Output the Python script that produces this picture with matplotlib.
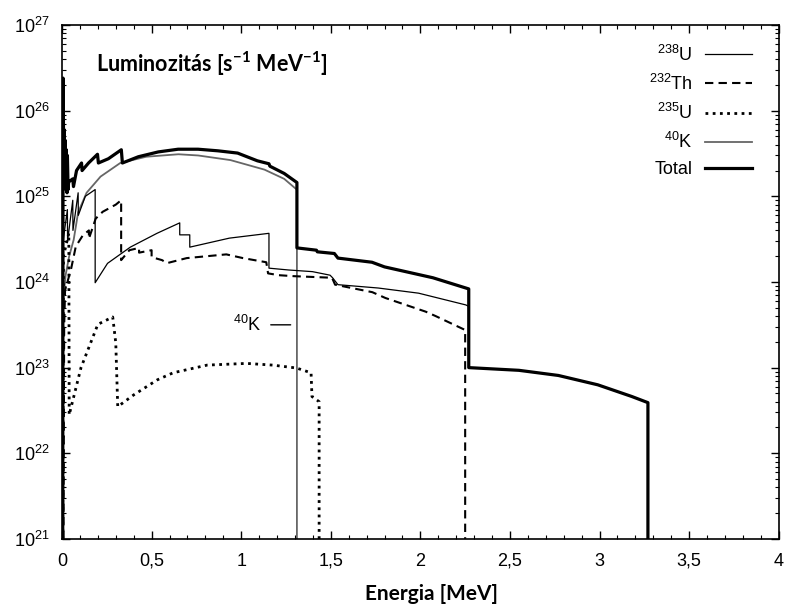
import matplotlib
matplotlib.use("Agg")
import matplotlib.pyplot as plt
from matplotlib.ticker import FixedLocator, FixedFormatter, MultipleLocator, LogLocator, NullFormatter

# Energy [MeV] / luminosity [s^-1 MeV^-1] for each decay chain
u238_e = [0.0, 0.005, 0.006, 0.030, 0.031, 0.060, 0.061, 0.090, 0.091, 0.130, 0.185, 0.185,
          0.254, 0.381, 0.530, 0.657, 0.657, 0.713, 0.713, 0.934, 1.155, 1.155, 1.265, 1.398,
          1.496, 1.51, 1.54, 1.765, 1.99, 2.253, 2.27, 2.27, 2.55, 2.77, 2.99, 3.18, 3.27, 3.27]
u238_l = [1e21, 1e21, 3e24, 7e24, 3e24, 9e24, 4e24, 1.1e25, 6e24, 1.0e25, 1.2e25, 9.8e23,
          1.65e24, 2.55e24, 3.7e24, 4.9e24, 3.55e24, 3.55e24, 2.55e24, 3.25e24, 3.7e24, 1.45e24, 1.38e24, 1.32e24,
          1.2e24, 1.12e24, 9.3e23, 8.5e23, 7.4e23, 5.4e23, 5.2e23, 1.0e23, 9.3e22, 8.1e22, 6.3e22, 4.6e22, 3.9e22, 1e21]

th232_e = [0.008, 0.012, 0.017, 0.050, 0.077, 0.116, 0.150, 0.150, 0.188, 0.227, 0.300, 0.330, 0.330,
           0.376, 0.430, 0.430, 0.500, 0.500, 0.558, 0.586, 0.696, 0.917, 1.01, 1.14, 1.15, 1.21, 1.29,
           1.507, 1.524, 1.732, 1.805, 2.03, 2.085, 2.25, 2.25]
th232_l = [1e21, 3e23, 8e23, 1.4e24, 2.6e24, 3.5e24, 4.0e24, 3.2e24, 5.5e24, 6.6e24, 8.0e24, 9.0e24, 1.8e24,
           2.35e24, 2.5e24, 2.2e24, 2.35e24, 1.95e24, 1.8e24, 1.66e24, 1.9e24, 2.1e24, 1.9e24, 1.7e24, 1.26e24, 1.2e24, 1.17e24,
           1.12e24, 9.3e23, 7.6e23, 6.5e23, 4.5e23, 4.0e23, 2.75e23, 1e21]

u235_e = [0.004, 0.008, 0.038, 0.040, 0.106, 0.200, 0.283, 0.300, 0.311, 0.400, 0.532, 0.620,
          0.810, 1.030, 1.175, 1.308, 1.390, 1.395, 1.435, 1.435]
u235_l = [1e21, 2e24, 3.7e24, 2.8e22, 1.0e23, 3.2e23, 3.9e23, 1.95e23, 3.5e22, 4.8e22, 7.2e22, 8.7e22,
          1.07e23, 1.12e23, 1.07e23, 9.9e22, 8.7e22, 4.6e22, 4.0e22, 1e21]

k40_e = [0.0, 0.003, 0.020, 0.040, 0.065, 0.090, 0.137, 0.215, 0.325, 0.470, 0.650, 0.760,
         0.940, 1.130, 1.240, 1.300, 1.311, 1.311]
k40_l = [1e21, 5e23, 1.2e24, 2.0e24, 3.1e24, 6.5e24, 1.1e25, 1.7e25, 2.45e25, 2.9e25, 3.1e25, 3.0e25,
         2.65e25, 2.05e25, 1.6e25, 1.25e25, 1.2e25, 1e21]

total_e = [0.0, 0.004, 0.006, 0.010, 0.012, 0.016, 0.018, 0.022, 0.024, 0.028, 0.030, 0.034,
           0.037, 0.060, 0.064, 0.081, 0.109, 0.112, 0.148, 0.198, 0.203, 0.259, 0.331, 0.337,
           0.426, 0.537, 0.648, 0.759, 0.870, 0.980, 1.090, 1.155, 1.160, 1.240, 1.311, 1.311,
           1.420, 1.425, 1.520, 1.540, 1.730, 1.800, 2.070, 2.270, 2.270, 2.550, 2.770, 2.990,
           3.180, 3.270, 3.270]
total_l = [1e21, 1e21, 2.4e26, 2.0e25, 6e25, 1.5e25, 4.5e25, 1.2e25, 3.5e25, 1.1e25, 3e25, 1.2e25,
           1.47e25, 1.6e25, 1.3e25, 2.0e25, 2.45e25, 2.0e25, 2.45e25, 3.1e25, 2.45e25, 2.75e25, 3.5e25, 2.45e25,
           2.9e25, 3.3e25, 3.55e25, 3.55e25, 3.4e25, 3.2e25, 2.6e25, 2.4e25, 2.25e25, 1.85e25, 1.45e25, 2.5e24,
           2.35e24, 2.25e24, 2.15e24, 1.9e24, 1.7e24, 1.5e24, 1.12e24, 8.3e23, 1.0e23, 9.3e22, 8.1e22, 6.3e22,
           4.6e22, 3.9e22, 1e21]

legend_labels = [r"$\mathdefault{^{238}}$U", r"$\mathdefault{^{232}}$Th", r"$\mathdefault{^{235}}$U",
                 r"$\mathdefault{^{40}}$K", "Total"]
x_ticks = [0, 0.5, 1, 1.5, 2, 2.5, 3, 3.5, 4]
x_tick_labels = ["0", "0,5", "1", "1,5", "2", "2,5", "3", "3,5", "4"]
y_ticks = [1e21, 1e22, 1e23, 1e24, 1e25, 1e26, 1e27]
y_tick_labels = [r"$\mathdefault{10^{%d}}$" % p for p in range(21, 28)]

plt.rcParams["font.family"] = ["Liberation Sans", "DejaVu Sans"]

fig = plt.figure(figsize=(7.85, 6.11), dpi=100)
ax = fig.add_axes([0.079, 0.118, 0.913, 0.841])

l40, = ax.plot(k40_e, k40_l, color="0.4", lw=1.3, zorder=2)
l238, = ax.plot(u238_e, u238_l, color="black", lw=0.9, zorder=3)
l232, = ax.plot(th232_e, th232_l, color="black", lw=1.5, linestyle=(0, (4, 2.5)), zorder=3)
l235, = ax.plot(u235_e, u235_l, color="black", lw=2.0, linestyle=(0, (1, 1.6)), zorder=3)
ltot, = ax.plot(total_e, total_l, color="black", lw=2.3, zorder=4)

ax.set_yscale("log")
ax.set_xlim(0, 4)
ax.set_ylim(1e21, 1e27)

ax.xaxis.set_major_locator(FixedLocator(x_ticks))
ax.xaxis.set_major_formatter(FixedFormatter(x_tick_labels))
ax.xaxis.set_minor_locator(MultipleLocator(0.1))
ax.yaxis.set_major_locator(FixedLocator(y_ticks))
ax.yaxis.set_major_formatter(FixedFormatter(y_tick_labels))
ax.yaxis.set_minor_locator(LogLocator(base=10, subs=range(2, 10), numticks=20))
ax.yaxis.set_minor_formatter(NullFormatter())

ax.tick_params(which="both", direction="in", top=True, right=True, colors="black")
ax.tick_params(which="major", length=6, width=1.0, labelsize=13)
ax.tick_params(which="minor", length=3, width=0.8)
ax.tick_params(axis="x", which="major", pad=10)
ax.tick_params(axis="y", which="major", pad=9)
for s in ax.spines.values():
    s.set_linewidth(1.2)

ax.set_xlabel("Energia [MeV]", fontfamily="Lato", fontweight="bold", fontsize=15)
ax.xaxis.set_label_coords(0.516, -0.088)

ax.text(0.048, 0.925, r"Luminozitás [s$\mathdefault{^{-1}}$ MeV$\mathdefault{^{-1}}$]",
        transform=ax.transAxes, fontfamily="Lato", fontweight="bold", fontsize=15.5,
        va="center", ha="left")

ax.text(1.115, 3.16e23, r"$\mathdefault{^{40}}$K", fontsize=13, ha="right", va="center")
ax.annotate("", xy=(1.276, 3.16e23), xytext=(1.165, 3.16e23),
            arrowprops=dict(arrowstyle="-", color="black", lw=1.0, shrinkA=0, shrinkB=0))

ax.legend([l238, l232, l235, l40, ltot], legend_labels, loc="upper right",
          bbox_to_anchor=(0.963, 0.962), frameon=False, markerfirst=False,
          fontsize=13, handlelength=2.6, handletextpad=0.7, labelspacing=0.5,
          borderpad=0, borderaxespad=0)

fig.savefig("out.png", dpi=100)
